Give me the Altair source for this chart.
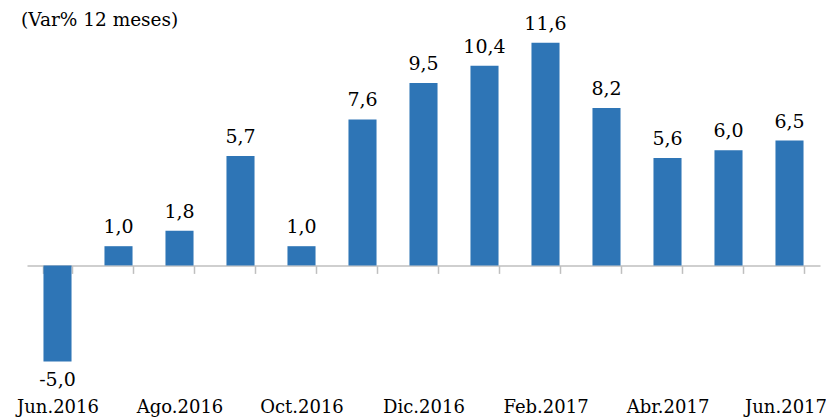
import altair as alt
import pandas as pd

months = ["Jun.2016", "Jul.2016", "Ago.2016", "Sep.2016", "Oct.2016", "Nov.2016",
          "Dic.2016", "Ene.2017", "Feb.2017", "Mar.2017", "Abr.2017", "May.2017", "Jun.2017"]
values = [-5.0, 1.0, 1.8, 5.7, 1.0, 7.6, 9.5, 10.4, 11.6, 8.2, 5.6, 6.0, 6.5]
shown_labels = ["Jun.2016", "Ago.2016", "Oct.2016", "Dic.2016", "Feb.2017", "Abr.2017", "Jun.2017"]
title_text = "(Var% 12 meses)"

df = pd.DataFrame({"mes": months, "v": values})
df["lab"] = [f"{v:.1f}".replace(".", ",") for v in values]

FONT = "DejaVu Serif"
shown_expr = "indexof(" + str(shown_labels).replace("'", '"') + ", datum.value) >= 0 ? datum.value : ''"
last_test = "datum.value == '" + months[-1] + "'"

x = alt.X("mes:N", sort=months, title=None,
          scale=alt.Scale(paddingInner=0.54, paddingOuter=0.27),
          axis=alt.Axis(orient="bottom", offset=-105.6, domain=True, domainColor="#BFBFBF",
                        domainWidth=1.5, ticks=True, tickBand="extent", tickColor="#BFBFBF",
                        tickWidth=1.5, tickSize=8, labelAngle=0, labelPadding=125,
                        labelFont=FONT, labelFontSize=18, labelColor="#000000",
                        labelAlign={"condition": {"test": last_test, "value": "right"}, "value": "center"},
                        labelOffset={"condition": {"test": last_test, "value": 37}, "value": 0},
                        labelExpr=shown_expr, labelOverlap=False, grid=False))
y = alt.Y("v:Q", scale=alt.Scale(domain=[-5.5, 12], nice=False, zero=False), axis=None)

base = alt.Chart(df)
bars = base.mark_bar(color="#2E75B6").encode(x=x, y=y, y2=alt.datum(0))
pos = base.transform_filter("datum.v >= 0").mark_text(
    font=FONT, fontSize=19, baseline="bottom", dy=-9, color="#000000"
).encode(x=alt.X("mes:N", sort=months), y="v:Q", text="lab:N")
neg = base.transform_filter("datum.v < 0").mark_text(
    font=FONT, fontSize=19, baseline="top", dy=10, color="#000000"
).encode(x=alt.X("mes:N", sort=months), y="v:Q", text="lab:N")
title = alt.Chart(pd.DataFrame({"t": [title_text]})).mark_text(
    font=FONT, fontSize=18.5, align="left", baseline="alphabetic", color="#000000"
).encode(x=alt.value(-6), y=alt.value(-9), text="t:N")

chart = alt.layer(bars, pos, neg, title).properties(
    width=793, height=336,
    background="white",
    autosize=alt.AutoSizeParams(type="none"),
    padding={"left": 19, "top": 27, "right": 6, "bottom": 49},
).configure_view(stroke=None)

chart.save("out.html", embed_options={"renderer": "svg", "actions": False})
